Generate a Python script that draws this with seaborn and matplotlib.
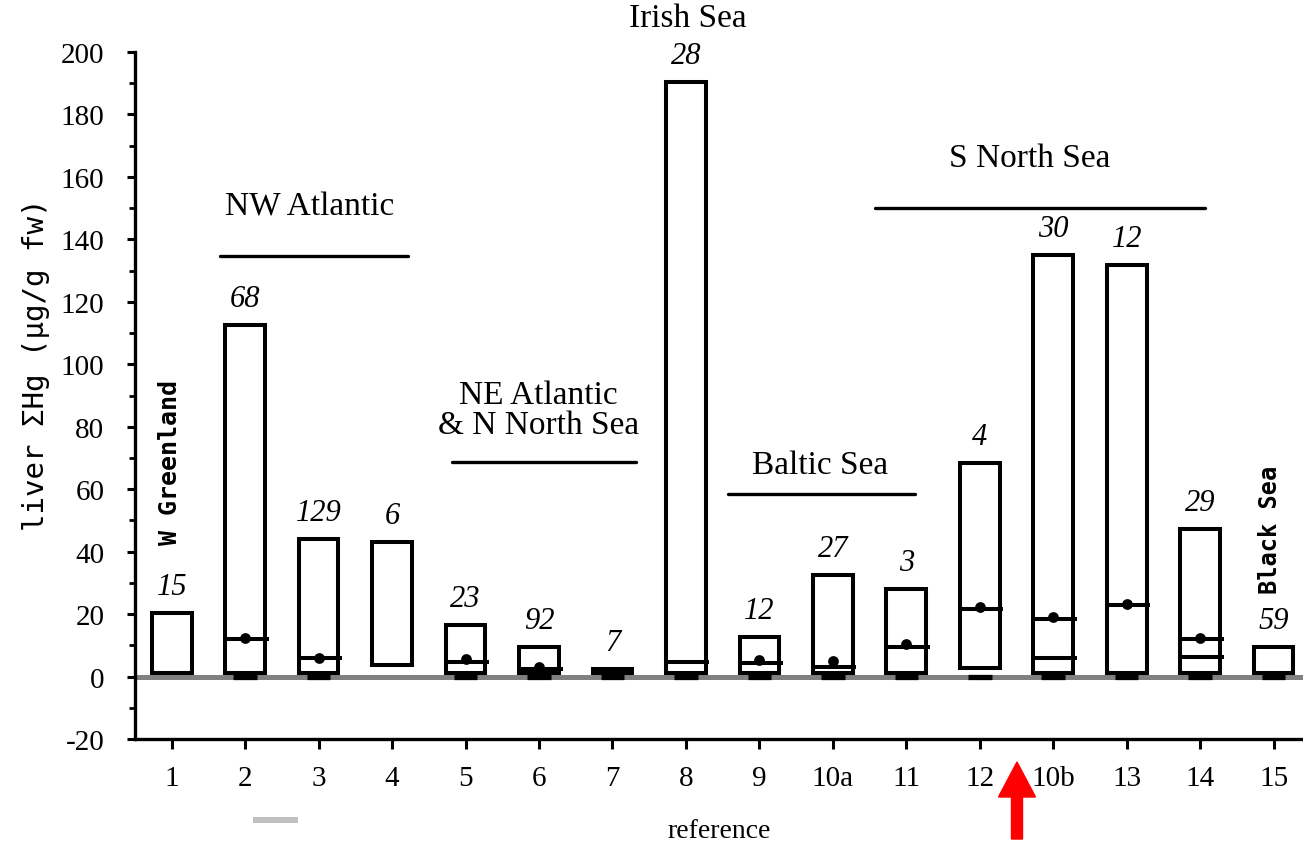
import numpy as np
import pandas as pd
import seaborn as sns
import matplotlib
matplotlib.use("Agg")
import matplotlib.pyplot as plt
from matplotlib.ticker import MultipleLocator
from matplotlib.patches import FancyArrow
from matplotlib.lines import Line2D
from matplotlib.transforms import IdentityTransform

# ---- data -------------------------------------------------------------
references = ["1", "2", "3", "4", "5", "6", "7", "8", "9", "10a",
              "11", "12", "10b", "13", "14", "15"]
range_min = [1.0, 1.0, 1.0, 3.8, 1.0, 1.0, 1.0, 1.0, 1.0, 1.0,
             1.0, 2.7, 1.0, 1.0, 1.0, 1.0]
range_max = [20.5, 112.7, 44.0, 43.0, 16.6, 9.6, 2.5, 190.5, 12.8, 32.5,
             28.0, 68.3, 135.0, 131.8, 47.4, 9.6]
median_vals = [np.nan, 12.0, 5.9, np.nan, 4.5, 2.5, np.nan, 4.5, 4.4, 3.2,
               9.6, 21.6, 18.4, 22.9, 12.0, np.nan]
second_line_vals = [np.nan, np.nan, np.nan, np.nan, np.nan, np.nan, np.nan, np.nan,
                    np.nan, np.nan, np.nan, np.nan, 5.8, np.nan, 6.4, np.nan]
mean_vals = [np.nan, 12.2, 6.0, np.nan, 5.5, 3.0, np.nan, np.nan, 5.3, 5.0,
             10.3, 22.4, 19.2, 23.1, 12.2, np.nan]
sample_sizes = [15, 68, 129, 6, 23, 92, 7, 28, 12, 27, 3, 4, 30, 12, 29, 59]
nd_marks = [False, True, True, False, True, True, True, True, True, True,
            True, True, True, True, True, True]

df = pd.DataFrame({
    "ref": references,
    "pos": np.arange(len(references)),
    "lo": range_min,
    "hi": range_max,
    "median": median_vals,
    "second": second_line_vals,
    "mean": mean_vals,
    "n": sample_sizes,
    "nd": nd_marks,
})

# ---- style ------------------------------------------------------------
sns.set_theme(style="ticks")
plt.rcParams["font.family"] = ["Liberation Serif", "DejaVu Serif"]
plt.rcParams["axes.unicode_minus"] = False
for key in ["text.color", "axes.labelcolor", "xtick.color", "ytick.color",
            "axes.edgecolor"]:
    plt.rcParams[key] = "black"

W, H, DPI = 1303, 845, 100
fig = plt.figure(figsize=(W / DPI, H / DPI), dpi=DPI)
fig.patch.set_facecolor("white")
ax = fig.add_axes([135 / W, 1 - 740 / H, (W - 135) / W, (740 - 53) / H])
ax.set_facecolor("white")

ax.set_xlim(-0.5, 15.4)
ax.set_ylim(-20, 200)

# zero reference line
ax.axhline(0, color="#808080", lw=3.6, zorder=1)

half = 0.27
box_lw = 2.9

# range boxes
ax.bar(df["pos"], df["hi"] - df["lo"], bottom=df["lo"], width=2 * half,
       facecolor="white", edgecolor="black", linewidth=box_lw, zorder=2)

# short marks on the zero line
nd = df[df["nd"]]
ax.hlines([0] * len(nd), nd["pos"] - 0.16, nd["pos"] + 0.16,
          colors="black", lw=3.8, zorder=3)

# median and secondary lines
for col in ["median", "second"]:
    sub = df.dropna(subset=[col])
    ax.hlines(sub[col], sub["pos"] - half, sub["pos"] + half + 0.05,
              colors="black", lw=box_lw, zorder=3)

# mean dots
sns.scatterplot(data=df.dropna(subset=["mean"]), x="pos", y="mean",
                color="black", s=60, edgecolor="black", linewidth=0,
                zorder=4, ax=ax, legend=False)

# sample sizes above boxes
for _, r in df.iterrows():
    ax.annotate(str(r["n"]), (r["pos"], r["hi"]), xytext=(0, 19),
                textcoords="offset points", ha="center", va="center",
                fontsize=22, style="italic", annotation_clip=False)

# region labels with bars
groups = [
    ("NW Atlantic", 1.88, 150.5, 0.66, 3.22, 134.8),
    ("NE Atlantic\n& N North Sea", 4.99, 85.5, 3.81, 6.32, 68.6),
    ("Baltic Sea", 8.82, 67.9, 7.57, 10.12, 58.3),
    ("S North Sea", 11.68, 166.0, 9.57, 14.07, 149.9),
]
for label, tx, ty, x0, x1, ly in groups:
    ax.text(tx, ty, label, ha="center", va="center", fontsize=24,
            linespacing=1.0)
    ax.plot([x0, x1], [ly, ly], color="black", lw=2.4,
            solid_capstyle="round", zorder=3)

ax.text(7.03, 211.0, "Irish Sea", ha="center", va="center", fontsize=24,
        clip_on=False)

mono = ["DejaVu Sans Mono"]
ax.text(-0.03, 69.0, "W Greenland", rotation=90, ha="center", va="center",
        fontsize=18, fontweight="bold", family=mono)
ax.text(14.95, 47.4, "Black Sea", rotation=90, ha="center", va="center",
        fontsize=17, fontweight="bold", family=mono)

# axes
ax.set_xticks(df["pos"])
ax.set_xticklabels(df["ref"], fontsize=21)
ax.yaxis.set_major_locator(MultipleLocator(20))
ax.yaxis.set_minor_locator(MultipleLocator(10))
ax.tick_params(axis="y", which="major", labelsize=21, length=6, width=2.2,
               pad=16, direction="out")
ax.tick_params(axis="y", which="minor", length=4, width=2.0, direction="out")
ax.tick_params(axis="x", which="major", length=7, width=2.2, pad=12,
               direction="out")
for side in ["top", "right"]:
    ax.spines[side].set_visible(False)
for side in ["left", "bottom"]:
    ax.spines[side].set_linewidth(2.4)
    ax.spines[side].set_color("black")

ax.set_xlabel("reference", fontsize=20, labelpad=19)
ax.set_ylabel("liver \u03a3Hg (\u00b5g/g fw)", fontsize=21, family=mono)
ax.yaxis.set_label_coords(-0.073, 0.546)

# pointer arrow below the axis and a grey dash
fig.patches.append(FancyArrow(1017, 5, 0, 77, width=11, head_width=37,
                              head_length=35, length_includes_head=True,
                              color="red", transform=IdentityTransform(),
                              figure=fig))
fig.lines.append(Line2D([253, 298], [H - 821, H - 821], color="#c0c0c0",
                        lw=4.3, solid_capstyle="butt",
                        transform=IdentityTransform(), figure=fig))

fig.savefig("out.png", dpi=DPI, facecolor="white")
